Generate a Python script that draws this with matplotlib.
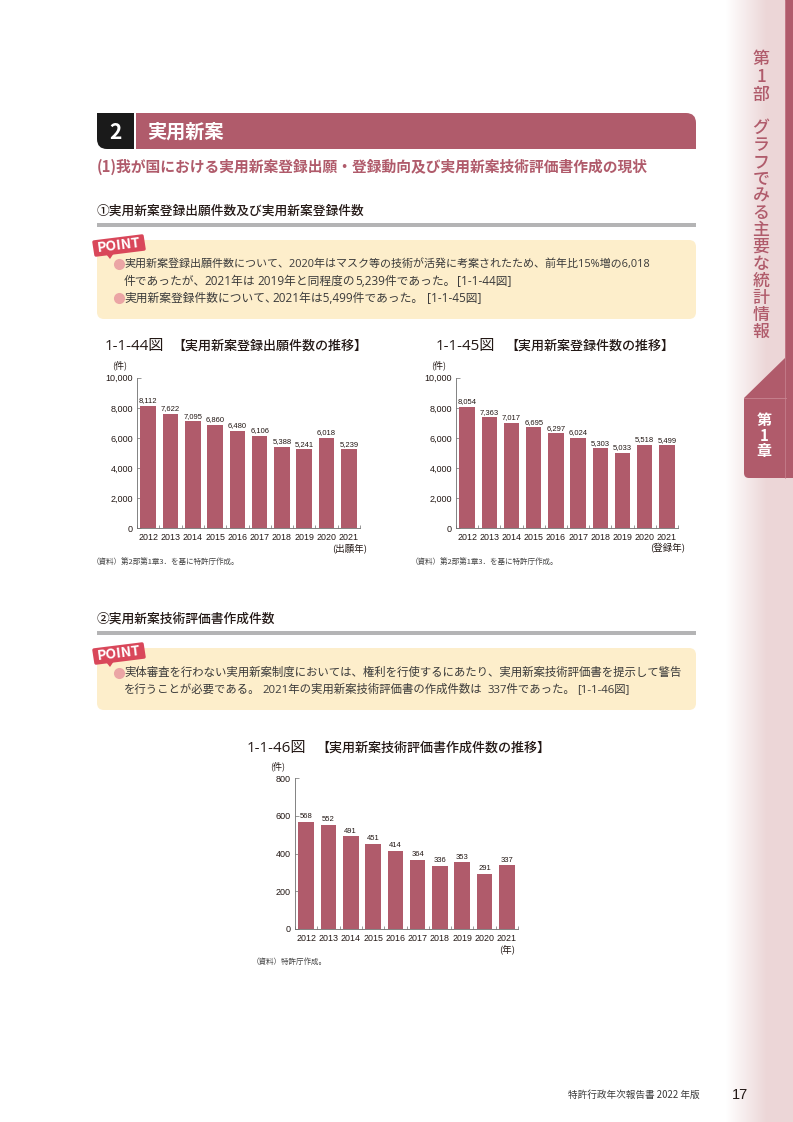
# chart page: utility model statistics
import numpy as np
import matplotlib
matplotlib.use('Agg')
import matplotlib.pyplot as plt
from matplotlib.patches import FancyBboxPatch, Polygon, Rectangle

plt.rcParams['font.family'] = ['Noto Sans CJK JP', 'DejaVu Sans']

years = ['2012', '2013', '2014', '2015', '2016', '2017', '2018', '2019', '2020', '2021']
applications = [8112, 7622, 7095, 6860, 6480, 6106, 5388, 5241, 6018, 5239]
registrations = [8054, 7363, 7017, 6695, 6297, 6024, 5303, 5033, 5518, 5499]
reports = [568, 552, 491, 451, 414, 364, 336, 353, 291, 337]

ticks_large = [0, 2000, 4000, 6000, 8000, 10000]
ticks_small = [0, 200, 400, 600, 800]

ROSE = '#b05b6b'
BAND = '#ecd6d7'
BODY_FONT = ['Open Sans', 'Noto Sans CJK JP']
W, H = 793, 1122

fig = plt.figure(figsize=(W / 100, H / 100), dpi=100, facecolor='white')
bg = fig.add_axes([0, 0, 1, 1])
bg.set_xlim(0, W)
bg.set_ylim(H, 0)
bg.axis('off')


def label(x, y, s, size, color='#231815', ha='left', weight='normal', **kw):
    bg.text(x, y, s, fontsize=size, color=color, ha=ha, va='center', fontweight=weight, **kw)


def body(y, parts, size=8.45):
    # each line is placed in pieces, the page has looser spacing than the font
    for x, s in parts:
        label(x, y, s, size, color='#3a3a3a', family=BODY_FONT)


def round_box(x0, y0, x1, y1, r, color, z=1):
    bg.add_patch(FancyBboxPatch((x0 + r, y0 + r), x1 - x0 - 2 * r, y1 - y0 - 2 * r,
                                boxstyle='round,pad=%s,rounding_size=%s' % (r, r),
                                fc=color, ec='none', zorder=z))


# side band
grad = np.linspace(0, 1, 64).reshape(1, -1)
cmap = matplotlib.colors.LinearSegmentedColormap.from_list('side', ['#ffffff', BAND])
bg.imshow(grad, extent=(726, 767, H, 0), cmap=cmap, aspect='auto', zorder=0)
bg.set_xlim(0, W)
bg.set_ylim(H, 0)
bg.add_patch(Rectangle((766.5, 0), 27, H, fc=BAND, ec='none', zorder=0.5))
bg.add_patch(Rectangle((785, 0), 8, 478, fc=ROSE, ec='none', zorder=1))
bg.add_patch(Polygon([(744, 398), (786, 357), (786, 398)], fc=ROSE, ec='none', zorder=1))
round_box(744, 398, 800, 478, 5, ROSE, z=1)
bg.add_patch(Rectangle((744, 398), 10, 10, fc=ROSE, ec='none', zorder=1))
bg.plot([744, 786], [398, 398], color='#c98592', lw=0.6, zorder=2)
bg.plot([785, 785], [0, 478], color='#c98592', lw=0.5, zorder=2)

side_part = ['第', '1', '部']
side_title = list('グラフでみる主要な統計情報')
for i, ch in enumerate(side_part):
    label(761, 59 + i * 18, ch, 12.2, color=ROSE, ha='center', weight='medium')
for i, ch in enumerate(side_title):
    label(761, 128 + i * 17, ch, 12.2, color=ROSE, ha='center', weight='medium')
for i, ch in enumerate(['第', '1', '章']):
    label(764, 420 + i * 15.5, ch, 10.8, color='white', ha='center', weight='bold')

# header
round_box(97, 113, 150, 149, 10, '#1a1a1a')
bg.add_patch(Rectangle((97, 113), 36, 14, fc='#1a1a1a', ec='none', zorder=1))
bg.add_patch(Rectangle((125, 113), 9, 36, fc='#1a1a1a', ec='none', zorder=1))
round_box(136, 113, 696, 149, 10, ROSE, z=1)
bg.add_patch(Rectangle((136, 113), 30, 36, fc=ROSE, ec='none', zorder=1))
bg.add_patch(Rectangle((136, 131), 560, 18, fc=ROSE, ec='none', zorder=1))
bg.add_patch(Rectangle((133.5, 110), 2.5, 42, fc='white', ec='none', zorder=2))
label(115, 132, '2', 15, color='white', ha='center', weight='bold', zorder=3)
label(147, 132, '実用新案', 13.8, color='white', weight='bold', zorder=3)
label(97, 167, '(1)我が国における実用新案登録出願・登録動向及び実用新案技術評価書作成の現状', 10.65,
      color=ROSE, weight='bold')

# section 1
label(97, 211, '①実用新案登録出願件数及び実用新案登録件数', 9.15, weight='medium')
bg.add_patch(Rectangle((97, 223), 599, 3.5, fc='#b4b4b5', ec='none'))
round_box(97, 240, 696, 319, 7, '#fdeecb')
body(264, [(124, '実用新案登録出願件数について、2020年はマスク等の技術が活発に考案されたため、前年比15%増の6,018')], size=7.93)
body(281, [(124, '件であったが、'), (204, '2021年は'), (257, '2019年と同程度の'),
           (355, '5,239件であった。'), (457, '[1-1-44図]')])
body(298, [(124, '実用新案登録件数について、'), (272, '2021年は5,499件であった。'), (427, '[1-1-45図]')])
for y in [264, 298]:
    bg.plot([118.5], [y], 'o', ms=8, color='#eba5a5', mec='none', zorder=3)

# section 2
label(97, 619, '②実用新案技術評価書作成件数', 9.2, weight='medium')
bg.add_patch(Rectangle((97, 631), 599, 3.5, fc='#b4b4b5', ec='none'))
round_box(97, 648, 696, 710, 7, '#fdeecb')
body(673, [(124, '実体審査を行わない実用新案制度においては、権利を行使するにあたり、実用新案技術評価書を提示して警告')], size=8.22)
body(690, [(124, 'を行うことが必要である。'), (262, '2021年の実用新案技術評価書の作成件数は'),
           (487, '337件であった。'), (577, '[1-1-46図]')], size=8.2)
bg.plot([118.5], [673], 'o', ms=8, color='#eba5a5', mec='none', zorder=3)

# POINT badges
for y0 in [234, 642]:
    bg.add_patch(Polygon([(94, y0 + 8), (142, y0 + 2), (144, y0 + 15), (96, y0 + 21)],
                         fc='#d9475a', ec='#d9475a', lw=2.5, joinstyle='round', zorder=4))
    bg.add_patch(Polygon([(106, y0 + 20), (114, y0 + 19), (110, y0 + 25)], fc='#d9475a', ec='none', zorder=4))
    label(119, y0 + 11.5, 'POINT', 10, color='white', ha='center', weight='bold', rotation=7, zorder=5)


def bar_chart(x0, x1, ytop, ybot, values, ymax, yticks, unit, unit_x):
    ax = fig.add_axes([x0 / W, 1 - ybot / H, (x1 - x0) / W, (ybot - ytop) / H])
    ax.patch.set_alpha(0)
    xs = np.arange(len(values))
    ax.bar(xs, values, width=0.7, color=ROSE, zorder=2)
    for x, v in zip(xs, values):
        ax.text(x, v + ymax * 0.012, format(v, ','), ha='center', va='bottom', fontsize=5.5,
                family=['Liberation Sans'], color='#231815')
    ax.set_xlim(-0.5, len(values) - 0.5)
    ax.set_ylim(0, ymax)
    for s in ['top', 'right']:
        ax.spines[s].set_visible(False)
    for s in ['left', 'bottom']:
        ax.spines[s].set_color('#6e6e6e')
        ax.spines[s].set_linewidth(0.6)
    ax.set_yticks(yticks)
    ax.set_yticklabels([format(t, ',') for t in yticks], family=['Liberation Sans'], fontsize=6.5, color='#231815')
    ax.tick_params(axis='y', direction='in', length=3, width=0.5, color='#6e6e6e', pad=3)
    ax.set_xticks(xs)
    ax.set_xticklabels(years, family=['Liberation Sans'], fontsize=6.4, color='#231815')
    ax.tick_params(axis='x', length=0, pad=3.5)
    ax.set_xticks(np.arange(-0.5, len(values)), minor=True)
    ax.tick_params(axis='x', which='minor', direction='in', length=2, width=0.5, color='#6e6e6e')
    label(x0 - 17, ytop - 12, '(件)', 6.5, ha='center')
    label(unit_x, ybot + 20, unit, 6.8, ha='right')
    return ax


bar_chart(137, 360, 377.7, 528.3, applications, 10000, ticks_large, '(出願年)', 367)
bar_chart(456, 678, 377.7, 528.3, registrations, 10000, ticks_large, '(登録年)', 685)
bar_chart(295, 518, 778, 929, reports, 800, ticks_small, '(年)', 515)

# chart titles and sources
for x_num, x_title, num, title, y in [
        (105, 172.5, '1-1-44図', '【実用新案登録出願件数の推移】', 346),
        (436, 505, '1-1-45図', '【実用新案登録件数の推移】', 346),
        (247, 316, '1-1-46図', '【実用新案技術評価書作成件数の推移】', 748)]:
    label(x_num, y, num, 10.9, family=BODY_FONT)
    label(x_title, y, title, 9.4, weight='medium')
label(92, 562, '（資料）第2部第1章3．を基に特許庁作成。', 5.45, color='#444444')
label(411, 562, '（資料）第2部第1章3．を基に特許庁作成。', 5.45, color='#444444')
label(252, 962, '（資料）特許庁作成。', 5.45, color='#444444')

# footer
label(700, 1095, '特許行政年次報告書 2022 年版', 6.95, color='#3a3a3a', ha='right')
label(748, 1095, '17', 10.5, color='#231815', ha='right', family=['Liberation Sans'])

fig.savefig('out.png', dpi=100)
